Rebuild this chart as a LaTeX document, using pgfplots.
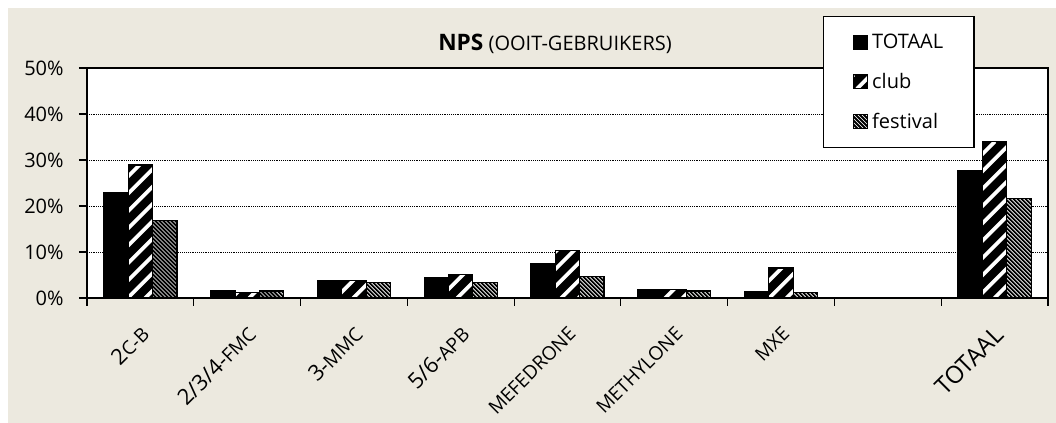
\documentclass[border=0pt]{standalone}
\usepackage{fontspec}
\setmainfont{Open Sans}
\usepackage{pgfplots}
\pgfplotsset{compat=1.18}
\definecolor{bg}{RGB}{236,233,223}
\newcommand{\smc}[1]{{\fontsize{14.3}{16}\selectfont #1}}
\pgfplotsset{sqlegend/.style={legend image code/.code={\draw[##1] (0pt,-5.25pt) rectangle (10.5pt,5.25pt);}}}
% stripes clipped to the path: #1 = horizontal period, #2 = line width, #3 = colour, #4 = 1 (rising) or -1 (falling)
\tikzset{stripes/.style n args={4}{path picture={%
  \pgfpointanchor{path picture bounding box}{south west}\pgfgetlastxy{\sx}{\sy}%
  \pgfpointanchor{path picture bounding box}{north east}\pgfgetlastxy{\ex}{\ey}%
  \pgfmathsetmacro{\bh}{\ey-\sy}%
  \pgfmathsetmacro{\bw}{\ex-\sx}%
  \pgfmathtruncatemacro{\nmax}{(\bw+\bh)/#1+2}%
  \pgfsetlinewidth{#2}\pgfsetstrokecolor{#3}%
  \foreach \i in {0,...,\nmax}{%
    \pgfmathsetmacro{\xa}{\sx+\i*#1-\bh-#1}%
    \pgfmathsetmacro{\xb}{\xa+\bh}%
    \ifnum#4>0
      \pgfpathmoveto{\pgfpoint{\xa pt}{\sy}}\pgfpathlineto{\pgfpoint{\xb pt}{\ey}}%
    \else
      \pgfpathmoveto{\pgfpoint{\xa pt}{\ey}}\pgfpathlineto{\pgfpoint{\xb pt}{\sy}}%
    \fi
    \pgfusepath{stroke}%
  }%
}}}
\begin{document}
\begin{tikzpicture}
\fill[white] (0,0) rectangle (792pt,317.25pt);
\fill[bg] (6pt,0) rectangle (792pt,311.25pt);
\begin{axis}[
  at={(65.25pt,93.75pt)}, anchor=south west, scale only axis,
  width=720.75pt, height=172.5pt,
  xmin=-0.5, xmax=8.5, ymin=0, ymax=50,
  ytick={0,10,...,50}, yticklabels={0\%,10\%,20\%,30\%,40\%,50\%},
  yticklabel style={xshift=-8pt},
  xtick={-0.5,0.5,...,8.5}, xticklabels={},
  extra x ticks={0,...,8},
  extra x tick labels={2\smc{C-B},2/3/4-\smc{FMC},3-\smc{MMC},5/6-\smc{APB},\smc{MEFEDRONE},\smc{METHYLONE},\smc{MXE},{},{\fontsize{18}{20}\selectfont TOTAAL}},
  extra x tick style={major tick length=0pt, xticklabel style={font=\fontsize{16.5}{18}\selectfont, xshift=6pt, yshift=-22pt, rotate=45, anchor=east}},
  tick align=outside, major tick length=6pt, tick pos=left,
  tick style={black, line width=0.8pt},
  ymajorgrids, grid style={black, densely dotted, line width=0.6pt},
  axis line style={black, line width=1.2pt},
  axis background/.style={fill=white},
  ticklabel style={font=\fontsize{15}{18}\selectfont},
  ybar=0pt, bar width=0.228,
  clip=false,
  legend style={at={(0.766,1.226)}, anchor=north west, draw=black, line width=1pt, fill=white,
    font=\fontsize{15}{18}\selectfont, row sep=13pt, inner xsep=21pt, inner ysep=11pt,
    cells={anchor=west}, /tikz/every even column/.append style={column sep=2pt}},
]
\addplot[fill=black, draw=black, line width=0.9pt, sqlegend]
  coordinates {(0,22.9) (1,1.5) (2,3.7) (3,4.4) (4,7.5) (5,1.8) (6,1.3) (8,27.8)};
\addplot[fill=black, draw=black, line width=0.9pt,
  stripes={13pt}{2.8pt}{white}{1}, sqlegend]
  coordinates {(0,28.9) (1,1.2) (2,3.8) (3,5.1) (4,10.4) (5,1.8) (6,6.5) (8,34.0)};
\addplot[fill=white, draw=black, line width=0.9pt,
  stripes={3pt}{1.4pt}{black}{-1}, sqlegend]
  coordinates {(0,16.8) (1,1.5) (2,3.4) (3,3.4) (4,4.6) (5,1.5) (6,1.2) (8,21.7)};
\legend{TOTAAL,club,festival}
\node[font=\fontsize{15}{18}\selectfont] at (axis description cs:0.487,1.105) {{\fontsize{17}{18}\selectfont\textbf{NPS}} (OOIT-GEBRUIKERS)};
\end{axis}
\pgfresetboundingbox
\path (0,0) rectangle (792pt,317.25pt);
\end{tikzpicture}
\end{document}
